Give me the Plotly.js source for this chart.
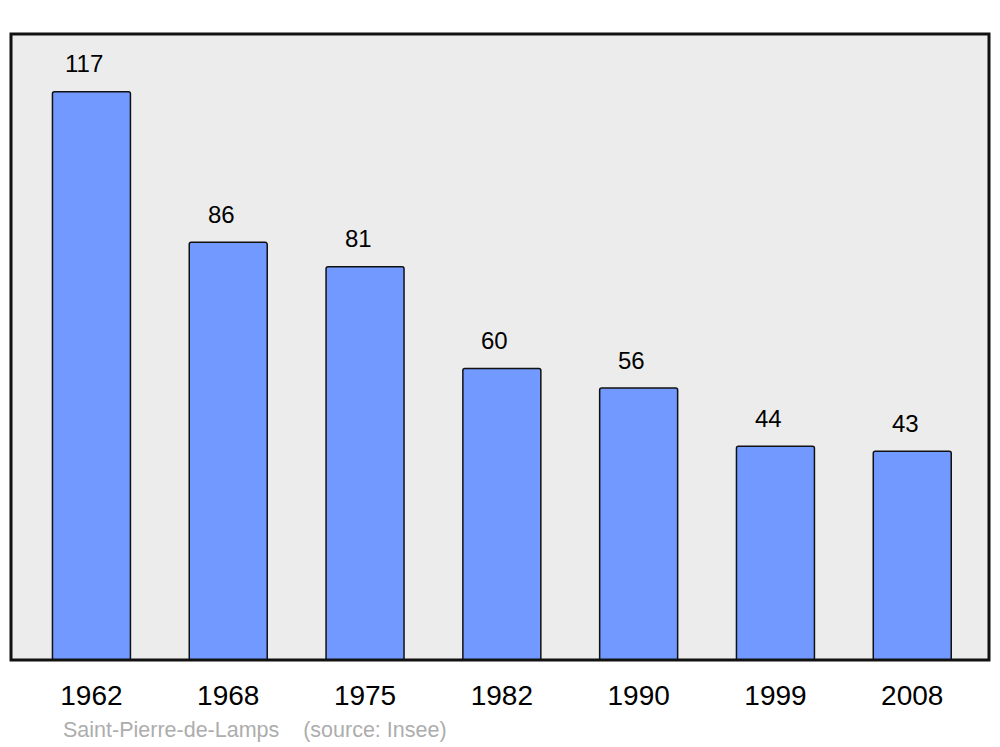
<!DOCTYPE html>
<html>
<head>
<meta charset="utf-8">
<script src="https://cdn.plot.ly/plotly-3.0.1.min.js"></script>
<style>html,body{margin:0;padding:0;background:#fff;}#chart{width:1000px;height:747px;}</style>
</head>
<body>
<div id="chart"></div>
<script>
const years = ['1962', '1968', '1975', '1982', '1990', '1999', '2008'];
const population = [117, 86, 81, 60, 56, 44, 43];
const sourceText = 'Saint-Pierre-de-Lamps    (source: Insee)';

const trace = {
  type: 'bar',
  x: years,
  y: population,
  width: 0.57,
  marker: {color: '#7299ff', line: {color: '#111111', width: 1.5}, cornerradius: 2},
  hoverinfo: 'x+y'
};

const annotations = years.map((yr, i) => ({
  x: i, y: population[i], xref: 'x', yref: 'y',
  text: String(population[i]), showarrow: false,
  yanchor: 'middle', xanchor: 'center', yshift: 28, xshift: -7,
  font: {family: 'Liberation Sans, Arial, sans-serif', size: 24, color: '#000'}
}));
annotations.push({
  x: 0.051, y: -0.112, xref: 'paper', yref: 'paper', xanchor: 'left', yanchor: 'middle',
  text: sourceText.replace(/ /g, '&nbsp;'), showarrow: false,
  font: {family: 'Liberation Sans, Arial, sans-serif', size: 21.5, color: '#adadad'}
});

const layout = {
  width: 1000, height: 747,
  margin: {l: 11, r: 11, t: 34, b: 87},
  paper_bgcolor: '#ffffff',
  plot_bgcolor: '#ececec',
  showlegend: false,
  xaxis: {
    type: 'category', range: [-0.588, 6.561], showgrid: false, zeroline: false,
    showline: false, ticks: '', ticklabelstandoff: 16,
    tickfont: {family: 'Liberation Sans, Arial, sans-serif', size: 28, color: '#000'}
  },
  yaxis: {range: [0, 128.9], showgrid: false, zeroline: false, showticklabels: false, ticks: '', showline: false},
  shapes: [{
    type: 'rect', xref: 'paper', yref: 'paper', x0: 0, x1: 1, y0: 0, y1: 1,
    line: {color: '#111111', width: 3}, layer: 'above'
  }],
  annotations: annotations
};

Plotly.newPlot('chart', [trace], layout, {displayModeBar: false, staticPlot: true});
</script>
</body>
</html>
